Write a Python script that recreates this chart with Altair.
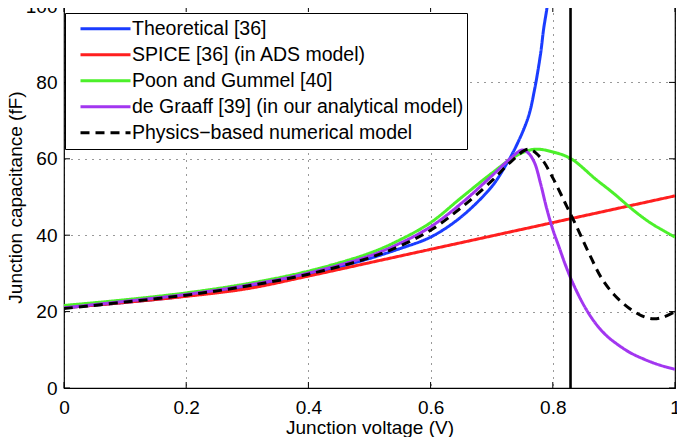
import altair as alt
import pandas as pd

# ---- data ----
series_names = [
    "Theoretical [36]",
    "SPICE [36] (in ADS model)",
    "Poon and Gummel [40]",
    "de Graaff [39] (in our analytical model)",
    "Physics\u2212based numerical model",
]
series_colors = ["#1a3cff", "#ff1f1f", "#4cf02a", "#a236f0", "#000000"]

blue_x = [0, 0.1, 0.2, 0.3, 0.4, 0.45, 0.5, 0.55, 0.6, 0.65, 0.7, 0.72, 0.74, 0.76, 0.77, 0.78, 0.785, 0.79, 0.8]
blue_y = [21, 22.4, 24.1, 26.5, 29.7, 31.7, 33.9, 36.5, 39.5, 44.8, 52.7, 57.5, 63.3, 71, 78, 87.5, 94, 99, 110]

red_x = [0, 0.1, 0.2, 0.3, 0.4, 0.5, 0.6, 0.7, 0.8, 0.9, 1.0]
red_y = [21, 22.4, 24, 26, 29.3, 32.8, 36.3, 39.8, 43.3, 46.8, 50.3]

green_x = [0, 0.1, 0.2, 0.3, 0.4, 0.5, 0.55, 0.6, 0.65, 0.7, 0.74, 0.77, 0.8, 0.83, 0.87, 0.9, 0.93, 0.96, 1.0]
green_y = [21.6, 23.1, 24.9, 27.3, 30.6, 35.3, 38.8, 43.3, 49.8, 56.2, 60.8, 62.5, 61.8, 60, 54.7, 50.9, 46.8, 43.2, 39.5]

purple_x = [0, 0.1, 0.2, 0.3, 0.4, 0.5, 0.55, 0.6, 0.65, 0.7, 0.73, 0.75, 0.76, 0.77, 0.78, 0.79, 0.8, 0.81,
            0.82, 0.83, 0.84, 0.85, 0.86, 0.87, 0.88, 0.89, 0.9, 0.925, 0.95, 0.975, 1.0]
purple_y = [21, 22.7, 24.5, 26.9, 30.1, 34.6, 37.9, 42.2, 48.3, 55.5, 60, 62.3, 61.5, 59, 53.5, 47, 41.5, 37,
            32.5, 28.5, 25, 21.9, 19.2, 16.9, 15, 13.4, 12.1, 9.4, 7.5, 6, 4.9]

black_x = [0, 0.1, 0.2, 0.3, 0.4, 0.5, 0.55, 0.6, 0.65, 0.7, 0.73, 0.76, 0.78, 0.8, 0.82, 0.84, 0.86, 0.88,
           0.9, 0.925, 0.95, 0.965, 0.98, 1.0]
black_y = [20.8, 22.5, 24.3, 26.7, 29.8, 34.1, 37.2, 41.3, 47.2, 54.2, 59, 62.5, 60.3, 55, 48.5, 41.9, 35, 28.7,
           24.5, 20.9, 18.6, 18.1, 18.5, 20]

vline_x = [0.829]

x_ticks = [0, 0.2, 0.4, 0.6, 0.8, 1.0]
y_ticks = [0, 20, 40, 60, 80, 100]

# ---- build tables ----
rows = []
for name, xs, ys in zip(series_names,
                        [blue_x, red_x, green_x, purple_x, black_x],
                        [blue_y, red_y, green_y, purple_y, black_y]):
    for i, (xv, yv) in enumerate(zip(xs, ys)):
        rows.append({"series": name, "v": xv, "c": yv, "i": i})
df = pd.DataFrame(rows)
vdf = pd.DataFrame({"v": vline_x})
xt = pd.DataFrame({"v": x_ticks})
yt = pd.DataFrame({"c": y_ticks})

W, H = 611, 382
FONT = "Liberation Sans"
FS = 19

xscale = alt.Scale(domain=[0, 1], nice=False, zero=False)
yscale = alt.Scale(domain=[0, 100], nice=False, zero=False)

xaxis = alt.Axis(values=x_ticks, format=".1~f", title="Junction voltage (V)", ticks=False, domain=False,
                 labelPadding=10, titlePadding=1, grid=True, gridDash=[1, 6], gridColor="#000",
                 gridOpacity=0.8, labelFlush=False)
yaxis = alt.Axis(values=y_ticks, format="d", title="Junction capacitance (fF)", ticks=False, domain=False,
                 labelPadding=7, titleX=-49, titleY=H / 2, titleBaseline="middle", titleAngle=270,
                 grid=True, gridDash=[1, 6], gridColor="#000",
                 gridOpacity=0.8, labelFlush=False)

lines = alt.Chart(df).mark_line(strokeWidth=3, clip=True, interpolate="catmull-rom").encode(
    x=alt.X("v:Q", scale=xscale, axis=xaxis),
    y=alt.Y("c:Q", scale=yscale, axis=yaxis),
    color=alt.Color("series:N", scale=alt.Scale(domain=series_names, range=series_colors), title=None),
    strokeDash=alt.StrokeDash("series:N", scale=alt.Scale(domain=series_names,
                                                          range=[[1, 0], [1, 0], [1, 0], [1, 0], [9, 6]]),
                              title=None),
    order="i:Q",
)

vline = alt.Chart(vdf).mark_rule(color="black", strokeWidth=2.6).encode(
    x=alt.X("v:Q", scale=xscale),
)

tick_len = 6
bot_ticks = alt.Chart(xt).mark_rule(color="black", strokeWidth=1).encode(
    x=alt.X("v:Q", scale=xscale), y=alt.value(H), y2=alt.value(H - tick_len))
top_ticks = alt.Chart(xt).mark_rule(color="black", strokeWidth=1).encode(
    x=alt.X("v:Q", scale=xscale), y=alt.value(0), y2=alt.value(tick_len))
left_ticks = alt.Chart(yt).mark_rule(color="black", strokeWidth=1).encode(
    y=alt.Y("c:Q", scale=yscale), x=alt.value(0), x2=alt.value(tick_len))
right_ticks = alt.Chart(yt).mark_rule(color="black", strokeWidth=1).encode(
    y=alt.Y("c:Q", scale=yscale), x=alt.value(W), x2=alt.value(W - tick_len))

chart = alt.layer(bot_ticks, top_ticks, left_ticks, right_ticks, lines, vline).properties(
    width=W, height=H,
    autosize=alt.AutoSizeParams(type="none"),
    padding={"left": 56, "top": -2, "right": 2, "bottom": 49},
).configure_view(
    stroke="black", strokeWidth=1.2,
).configure_axis(
    labelFont=FONT, titleFont=FONT, labelFontSize=FS, titleFontSize=FS,
    labelColor="black", titleColor="black", titleFontWeight="normal",
).configure_legend(
    orient="none", legendX=1, legendY=7, padding=3,
    strokeColor="black", fillColor="white",
    labelFont=FONT, labelFontSize=19.5, labelColor="black", labelLimit=600,
    symbolType="stroke", symbolSize=2500, symbolStrokeWidth=3,
    clipHeight=25.5, rowPadding=0, labelOffset=0, symbolOffset=11,
)

chart.save("out.html", embed_options={"renderer": "svg", "actions": False})
